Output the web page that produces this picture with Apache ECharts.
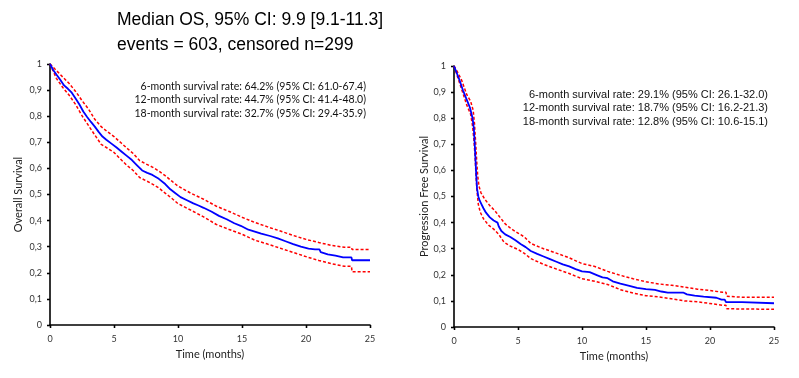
<!DOCTYPE html>
<html>
<head>
<meta charset="utf-8">
<script src="https://cdn.jsdelivr.net/npm/echarts@6/dist/echarts.min.js"></script>
<style>
html,body{margin:0;padding:0;background:#fff;}
#chart{width:799px;height:378px;}
</style>
</head>
<body>
<div id="chart"></div>
<script>
// ---------- DATA ----------
const osTime  = [0,0.25,0.5,0.8,1.1,1.4,1.7,2.0,2.3,2.6,2.9,3.2,3.5,3.8,4.1,4.4,4.8,5.2,5.6,6.0,6.4,6.8,7.2,7.6,8.0,8.5,9.0,9.4,9.8,10.2,10.7,11.2,11.6,12.0,12.6,13.2,13.8,14.4,14.9,15.5,16.0,16.5,17.2,17.8,18.4,19.0,19.6,20.2,20.7,21.05,21.15,21.7,22.3,22.9,23.55,23.6,25];
const osSurv  = [1.0,0.977,0.96,0.94,0.918,0.905,0.89,0.868,0.845,0.818,0.797,0.778,0.76,0.74,0.722,0.71,0.695,0.68,0.664,0.648,0.632,0.612,0.592,0.583,0.575,0.56,0.54,0.52,0.505,0.49,0.478,0.466,0.458,0.449,0.435,0.418,0.405,0.39,0.38,0.365,0.358,0.35,0.341,0.332,0.321,0.31,0.3,0.293,0.29,0.29,0.279,0.271,0.266,0.259,0.259,0.248,0.248];

const osCiTime  = [0,0.5,1.0,1.5,2.0,2.5,3.0,3.5,4.0,4.5,5.0,5.5,6.0,6.5,7.0,7.5,8.0,8.5,9.0,9.5,10.0,11.0,12.0,13.0,14.0,15.0,16.0,17.0,18.0,19.0,20.0,21.0,22.0,23.0,23.55,23.6,25];
const osUpper   = [1.0,0.975,0.95,0.925,0.895,0.86,0.828,0.788,0.76,0.74,0.722,0.70,0.678,0.657,0.63,0.617,0.605,0.59,0.572,0.552,0.532,0.505,0.482,0.455,0.435,0.413,0.393,0.376,0.36,0.343,0.328,0.316,0.305,0.298,0.298,0.289,0.289];
const osLower   = [1.0,0.945,0.91,0.88,0.845,0.802,0.765,0.728,0.692,0.677,0.661,0.636,0.612,0.592,0.565,0.553,0.54,0.525,0.505,0.486,0.465,0.44,0.414,0.385,0.366,0.348,0.325,0.31,0.294,0.278,0.262,0.247,0.235,0.225,0.225,0.204,0.204];

const pfsTime = [0,0.2,0.4,0.7,1.0,1.25,1.45,1.55,1.62,1.68,1.74,1.8,1.9,2.0,2.15,2.3,2.5,2.8,3.1,3.4,3.5,3.7,4.0,4.4,4.8,5.2,5.6,6.0,6.5,7.0,7.5,8.0,8.5,9.0,9.5,10.0,10.6,11.2,11.6,12.0,12.4,13.0,13.7,14.3,15.0,15.7,16.2,16.7,17.9,18.2,18.8,19.5,20.5,20.9,21.15,21.25,22.5,22.6,25];
const pfsSurv = [1.0,0.975,0.95,0.907,0.87,0.84,0.80,0.76,0.70,0.64,0.58,0.53,0.50,0.485,0.47,0.455,0.438,0.42,0.408,0.40,0.385,0.368,0.355,0.345,0.332,0.318,0.306,0.291,0.28,0.27,0.26,0.25,0.24,0.232,0.222,0.213,0.21,0.198,0.19,0.187,0.175,0.166,0.158,0.15,0.145,0.142,0.136,0.132,0.132,0.125,0.12,0.116,0.112,0.105,0.105,0.095,0.095,0.091,0.091];

const pfsCiTimeU = [0,0.3,0.6,1.0,1.3,1.5,1.6,1.7,1.78,1.85,1.95,2.1,2.4,2.8,3.2,3.6,4.0,4.5,5.0,5.5,6.0,7.0,8.0,9.0,10.0,11.0,12.0,13.0,14.0,15.0,16.0,17.0,18.0,19.0,20.0,21.0,21.25,21.3,22.5,25];
const pfsUpper   = [1.0,0.975,0.945,0.89,0.865,0.83,0.78,0.70,0.63,0.58,0.54,0.515,0.49,0.465,0.445,0.42,0.395,0.375,0.36,0.345,0.32,0.30,0.283,0.265,0.243,0.232,0.213,0.198,0.185,0.173,0.165,0.16,0.153,0.145,0.14,0.133,0.133,0.118,0.114,0.114];
const pfsCiTimeL = [0,0.3,0.6,1.0,1.3,1.45,1.55,1.65,1.72,1.8,1.9,2.05,2.3,2.7,3.1,3.5,3.9,4.4,5.0,5.5,6.0,7.0,8.0,9.0,10.0,11.0,12.0,13.0,14.0,15.0,16.0,17.0,18.0,19.0,20.0,21.0,21.25,21.3,22.5,25];
const pfsLower   = [1.0,0.955,0.91,0.85,0.815,0.77,0.72,0.65,0.58,0.52,0.47,0.44,0.415,0.39,0.375,0.355,0.325,0.31,0.297,0.282,0.262,0.24,0.222,0.205,0.185,0.175,0.163,0.143,0.13,0.12,0.115,0.108,0.1,0.097,0.09,0.083,0.083,0.07,0.069,0.068];

const xTicks = [0,5,10,15,20,25];
const yTicks = [0,0.1,0.2,0.3,0.4,0.5,0.6,0.7,0.8,0.9,1];

const titleLines = ['Median OS, 95% CI: 9.9 [9.1-11.3]', 'events = 603, censored n=299'];
const osNotes = ['6-month survival rate: 64.2% (95% CI: 61.0-67.4)', '12-month survival rate: 44.7% (95% CI: 41.4-48.0)', '18-month survival rate: 32.7% (95% CI: 29.4-35.9)'];
const pfsNotes = ['6-month survival rate: 29.1% (95% CI: 26.1-32.0)', '12-month survival rate: 18.7% (95% CI: 16.2-21.3)', '18-month survival rate: 12.8% (95% CI: 10.6-15.1)'];

// ---------- CHART ----------
const zip = (a, b) => a.map((v, i) => [v, b[i]]);
const chart = echarts.init(document.getElementById('chart'), null, {renderer: 'canvas'});

const tickFont = 'Lato';
function mainX(grid, name) {
  return {
    type: 'value', gridIndex: grid, min: xTicks[0], max: xTicks[xTicks.length-1], interval: xTicks[1]-xTicks[0],
    name: name, nameLocation: 'middle', nameGap: 24,
    nameTextStyle: {fontFamily: tickFont, fontSize: 11, color: '#222'},
    axisLine: {show: true, lineStyle: {color: '#000', width: 1.6}},
    axisTick: {show: true, inside: false, length: 3, lineStyle: {color: '#000', width: 1.3}},
    axisLabel: {fontFamily: tickFont, fontSize: 9, color: '#333', margin: 10},
    splitLine: {show: false}
  };
}
function innerX(grid) {
  return {
    type: 'value', gridIndex: grid, min: xTicks[0], max: xTicks[xTicks.length-1], interval: xTicks[1]-xTicks[0],
    axisLine: {show: false}, axisLabel: {show: false}, splitLine: {show: false},
    axisTick: {show: true, inside: true, length: 3, lineStyle: {color: '#000', width: 1.3}}
  };
}
function mainY(grid, name, gap) {
  return {
    type: 'value', gridIndex: grid, min: yTicks[0], max: yTicks[yTicks.length-1], interval: 0.1,
    name: name, nameLocation: 'middle', nameGap: gap, nameRotate: 90,
    nameTextStyle: {fontFamily: tickFont, fontSize: 11, color: '#222'},
    axisLine: {show: true, lineStyle: {color: '#000', width: 1.6}},
    axisTick: {show: true, inside: false, length: 3, lineStyle: {color: '#000', width: 1.3}},
    axisLabel: {fontFamily: tickFont, fontSize: 9, color: '#333', margin: 8,
      formatter: v => String(Math.round(v*10)/10).replace('.', ',')},
    splitLine: {show: false}
  };
}
function innerY(grid) {
  return {
    type: 'value', gridIndex: grid, min: 0, max: 1, interval: 0.1,
    axisLine: {show: false}, axisLabel: {show: false}, splitLine: {show: false},
    axisTick: {show: true, inside: true, length: 3, lineStyle: {color: '#000', width: 1.3}}
  };
}
function km(data, xi, yi, isCI) {
  return {
    type: 'line', xAxisIndex: xi, yAxisIndex: yi, data: data,
    symbol: 'none', silent: true, animation: false,
    lineStyle: isCI ? {color: '#ff0000', width: 1.5, type: [3, 2]} : {color: '#0000ff', width: 1.8},
    z: isCI ? 2 : 3
  };
}
function noteTexts(lines, right, top, family, size, step) {
  return lines.map((t, i) => ({
    type: 'text', right: right, top: top + i*step,
    style: {text: t, fontFamily: family, fontSize: size, fill: '#111', textAlign: 'right'}
  }));
}

const option = {
  backgroundColor: '#fff',
  animation: false,
  grid: [
    {left: 50, right: 429, top: 64, bottom: 53},
    {left: 454, right: 25, top: 66, bottom: 51}
  ],
  xAxis: [mainX(0, 'Time (months)'), innerX(0), mainX(1, 'Time (months)'), innerX(1)],
  yAxis: [mainY(0, 'Overall Survival', 26), innerY(0), mainY(1, 'Progression Free Survival', 23), innerY(1)],
  series: [
    km(zip(osCiTime, osUpper), 0, 0, true),
    km(zip(osCiTime, osLower), 0, 0, true),
    km(zip(osTime, osSurv), 0, 0, false),
    km(zip(pfsCiTimeU, pfsUpper), 2, 2, true),
    km(zip(pfsCiTimeL, pfsLower), 2, 2, true),
    km(zip(pfsTime, pfsSurv), 2, 2, false)
  ],
  graphic: [
    {type: 'text', left: 117, top: 11, style: {text: titleLines[0], fontFamily: 'Liberation Sans', fontSize: 17.5, fill: '#000'}},
    {type: 'text', left: 117, top: 36, style: {text: titleLines[1], fontFamily: 'Liberation Sans', fontSize: 17.5, fill: '#000'}},
    ...noteTexts(osNotes, 799-366, 81, 'Lato', 10.5, 13.5),
    ...noteTexts(pfsNotes, 799-768, 89, 'Liberation Sans', 11, 13.5)
  ]
};
chart.setOption(option);
</script>
</body>
</html>
